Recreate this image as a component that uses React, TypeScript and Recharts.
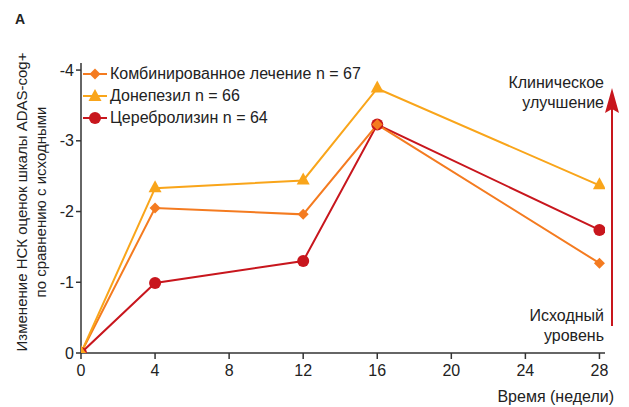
import React from "react";
import { LineChart, Line, XAxis, YAxis } from "recharts";

// weeks of follow-up
const WEEKS = [0, 4, 12, 16, 28];
const X_TICKS = [0, 4, 8, 12, 16, 20, 24, 28];
const Y_TICKS = [0, -1, -2, -3, -4];

// change in ADAS-cog+ score vs. baseline (negative = improvement)
const COMBINED = [0, -2.05, -1.96, -3.23, -1.27];
const DONEPEZIL = [0, -2.33, -2.44, -3.74, -2.37];
const CEREBROLYSIN = [0, -0.99, -1.3, -3.23, -1.74];

const COLORS = {
  combined: "#f47b20",
  donepezil: "#f9a51a",
  cerebrolysin: "#c8161d",
};

const LABELS = {
  combined: "Комбинированное лечение n = 67",
  donepezil: "Донепезил n = 66",
  cerebrolysin: "Церебролизин n = 64",
};

const FONT = "'Liberation Sans', Arial, Helvetica, sans-serif";
const TEXT_SIZE = 16;

const chartData = WEEKS.map((week, i) => ({
  week,
  combined: COMBINED[i],
  donepezil: DONEPEZIL[i],
  cerebrolysin: CEREBROLYSIN[i],
}));

type Shape = "diamond" | "triangle" | "circle";

function Marker({ cx, cy, shape, color }: { cx: number; cy: number; shape: Shape; color: string }) {
  if (shape === "diamond") {
    const r = 5.5;
    return (
      <polygon
        points={`${cx},${cy - r} ${cx + r},${cy} ${cx},${cy + r} ${cx - r},${cy}`}
        fill={color}
      />
    );
  }
  if (shape === "triangle") {
    return (
      <polygon
        points={`${cx},${cy - 8} ${cx + 6.5},${cy + 4} ${cx - 6.5},${cy + 4}`}
        fill={color}
      />
    );
  }
  return <circle cx={cx} cy={cy} r={6} fill={color} />;
}

const makeDot = (shape: Shape, color: string) => (props: any) => {
  const { cx, cy, index } = props;
  if (cx == null || cy == null) return <g key={index} />;
  return <Marker key={index} cx={cx} cy={cy} shape={shape} color={color} />;
};

const LEGEND_ITEMS: { key: keyof typeof COLORS; shape: Shape }[] = [
  { key: "combined", shape: "diamond" },
  { key: "donepezil", shape: "triangle" },
  { key: "cerebrolysin", shape: "circle" },
];

function LegendBox() {
  return (
    <div
      style={{
        position: "absolute",
        left: 83,
        top: 63,
        fontFamily: FONT,
        fontSize: TEXT_SIZE,
        color: "#222",
        lineHeight: "22px",
      }}
    >
      {LEGEND_ITEMS.map((item) => (
        <div key={item.key} style={{ display: "flex", alignItems: "center", height: 22 }}>
          <svg width={26} height={16} style={{ marginRight: 1 }}>
            <line x1={0} y1={8} x2={24} y2={8} stroke={COLORS[item.key]} strokeWidth={2} />
            <Marker cx={12} cy={item.shape === "triangle" ? 9 : 8} shape={item.shape} color={COLORS[item.key]} />
          </svg>
          <span>{LABELS[item.key]}</span>
        </div>
      ))}
    </div>
  );
}

const tickStyle = { fontSize: TEXT_SIZE, fill: "#222", fontFamily: FONT };

export default function App() {
  return (
    <div
      style={{
        position: "absolute",
        left: 0,
        top: 0,
        width: 629,
        height: 407,
        background: "#fff",
        fontFamily: FONT,
      }}
    >
      <LineChart
        width={629}
        height={407}
        data={chartData}
        margin={{ top: 63, right: 24, left: 0, bottom: 0 }}
      >
        <XAxis
          dataKey="week"
          type="number"
          domain={[0, 28.3]}
          ticks={X_TICKS}
          allowDataOverflow
          height={54}
          tick={tickStyle}
          tickSize={6}
          tickMargin={6}
          stroke="#333"
          strokeWidth={1.5}
        />
        <YAxis
          type="number"
          reversed
          domain={[-4.1, 0]}
          ticks={Y_TICKS}
          allowDataOverflow
          width={81}
          tick={tickStyle}
          tickSize={5}
          tickMargin={2}
          stroke="#333"
          strokeWidth={1.5}
        />
        <Line
          dataKey="cerebrolysin"
          stroke={COLORS.cerebrolysin}
          strokeWidth={2}
          dot={makeDot("circle", COLORS.cerebrolysin)}
          isAnimationActive={false}
        />
        <Line
          dataKey="combined"
          stroke={COLORS.combined}
          strokeWidth={2}
          dot={makeDot("diamond", COLORS.combined)}
          isAnimationActive={false}
        />
        <Line
          dataKey="donepezil"
          stroke={COLORS.donepezil}
          strokeWidth={2}
          dot={makeDot("triangle", COLORS.donepezil)}
          isAnimationActive={false}
        />
      </LineChart>

      <LegendBox />

      <svg
        width={629}
        height={407}
        style={{ position: "absolute", left: 0, top: 0, pointerEvents: "none" }}
        fontFamily={FONT}
      >
        <text x={15} y={24} fontSize={14} fontWeight="bold" fill="#222">
          A
        </text>
        <g transform="translate(27, 202) rotate(-90)" fontSize={15} fill="#222" textAnchor="middle">
          <text x={0} y={0}>Изменение НСК оценок шкалы ADAS-cog+</text>
          <text x={0} y={18.5}>по сравнению с исходными</text>
        </g>

        {/* direction-of-improvement arrow */}
        <line x1={612} y1={326} x2={612} y2={108} stroke={COLORS.cerebrolysin} strokeWidth={2} />
        <polygon points="612,88 619,113 612,109 605,113" fill={COLORS.cerebrolysin} />

        <g fontSize={TEXT_SIZE} fill="#222" textAnchor="end">
          <text x={604} y={88}>Клиническое</text>
          <text x={604} y={108}>улучшение</text>
          <text x={604} y={321}>Исходный</text>
          <text x={604} y={341}>уровень</text>
        </g>
        <text x={614} y={402} fontSize={TEXT_SIZE} fill="#222" textAnchor="end">
          Время (недели)
        </text>
      </svg>
    </div>
  );
}
